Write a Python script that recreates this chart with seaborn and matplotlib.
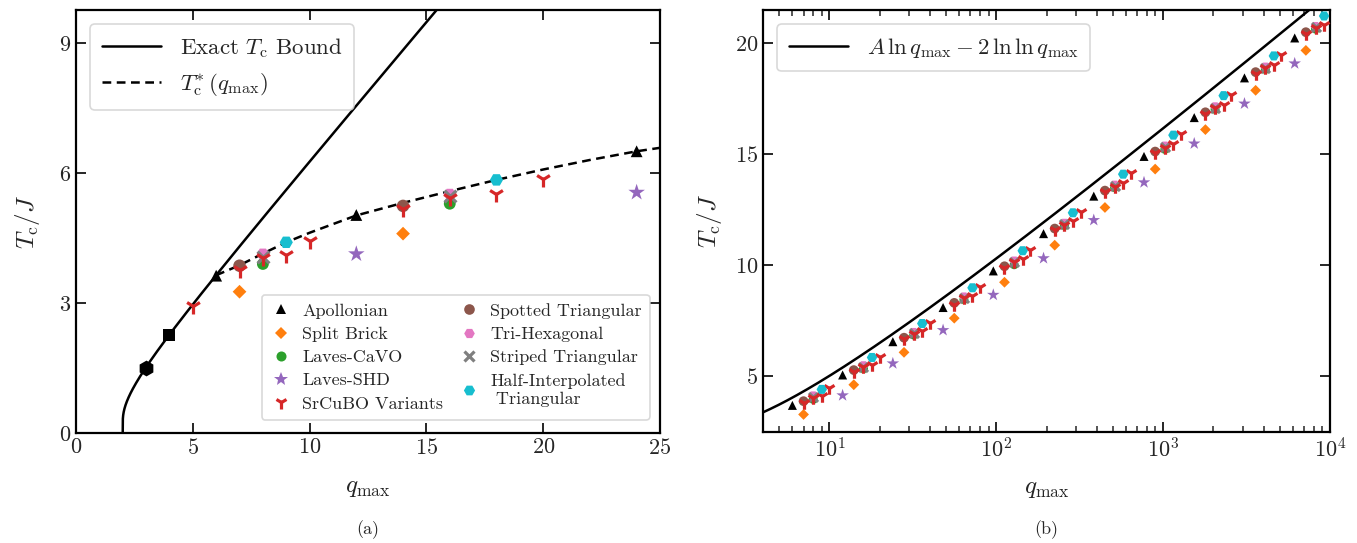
import numpy as np
import pandas as pd
import matplotlib
matplotlib.use("Agg")
import matplotlib.pyplot as plt
import seaborn as sns
from matplotlib.lines import Line2D
from matplotlib.ticker import LogLocator, NullFormatter, FixedLocator

sns.set_theme(style="ticks")
plt.rcParams.update({
    "font.family": "serif",
    "font.serif": ["cmr10"],
    "mathtext.fontset": "cm",
    "axes.formatter.use_mathtext": True,
    "axes.unicode_minus": False,
    "axes.linewidth": 1.6,
    "xtick.direction": "in",
    "ytick.direction": "in",
    "xtick.top": True,
    "ytick.right": True,
    "xtick.major.size": 7,
    "ytick.major.size": 7,
    "xtick.minor.size": 4,
    "xtick.major.width": 1.4,
    "ytick.major.width": 1.4,
    "xtick.minor.width": 1.1,
    "xtick.labelsize": 16,
    "ytick.labelsize": 16,
    "axes.edgecolor": "black",
})

# ---------------- data: panel (a) ----------------
regular_q = [3, 4]
regular_T = [1.51, 2.26]

apol_q_a = [6, 12, 24]
apol_T_a = [3.63, 5.03, 6.50]
split_q_a = [7, 14]
split_T_a = [3.26, 4.60]
cavo_q_a = [8, 16]
cavo_T_a = [3.90, 5.29]
shd_q_a = [12, 24]
shd_T_a = [4.13, 5.55]
srcubo_q_a = [5, 7, 8, 9, 10, 14, 16, 18, 20]
srcubo_T_a = [2.92, 3.76, 4.03, 4.11, 4.42, 5.17, 5.42, 5.52, 5.86]
spotted_q_a = [7, 14]
spotted_T_a = [3.86, 5.24]
trihex_q_a = [8, 16]
trihex_T_a = [4.13, 5.51]
striped_q_a = [8, 16]
striped_T_a = [4.07, 5.46]
half_q_a = [9, 18]
half_T_a = [4.40, 5.84]

# T_c^*(q_max) dashed curve
tstar_q = [6, 7, 8, 9, 10, 12, 14, 16, 18, 20, 22, 24, 25]
tstar_T = [3.64, 3.87, 4.14, 4.40, 4.62, 5.02, 5.31, 5.58, 5.84, 6.08, 6.30, 6.50, 6.58]

# ---------------- data: panel (b) ----------------
apol_q_b = [6, 12, 24, 48, 96, 192, 384, 768, 1536, 3072, 6144]
apol_T_b = [3.68, 5.05, 6.55, 8.09, 9.74, 11.42, 13.11, 14.90, 16.65, 18.44, 20.24]
split_q_b = [7, 14, 28, 56, 112, 224, 448, 896, 1792, 3584, 7168]
split_T_b = [3.27, 4.61, 6.07, 7.61, 9.23, 10.90, 12.60, 14.33, 16.11, 17.88, 19.68]
cavo_q_b = [8, 16, 32, 64, 128, 256, 512, 1024, 2048, 4096, 8192]
cavo_T_b = [3.95, 5.33, 6.85, 8.45, 10.02, 11.78, 13.50, 15.22, 17.02, 18.82, 20.64]
shd_q_b = [12, 24, 48, 96, 192, 384, 768, 1536, 3072, 6144]
shd_T_b = [4.13, 5.57, 7.07, 8.66, 10.31, 12.03, 13.73, 15.48, 17.28, 19.09]
spotted_q_b = [7, 14, 28, 56, 112, 224, 448, 896, 1792, 3584, 7168]
spotted_T_b = [3.87, 5.27, 6.73, 8.30, 9.95, 11.65, 13.36, 15.12, 16.89, 18.70, 20.50]
trihex_q_b = [8, 16, 32, 64, 128, 256, 512, 1024, 2048, 4096, 8192]
trihex_T_b = [4.12, 5.48, 6.98, 8.58, 10.20, 11.90, 13.62, 15.38, 17.15, 18.94, 20.77]
striped_q_b = [8, 16, 32, 64, 128, 256, 512, 1024, 2048, 4096, 8192]
striped_T_b = [4.07, 5.42, 6.92, 8.54, 10.15, 11.86, 13.57, 15.33, 17.10, 18.90, 20.73]
half_q_b = [9, 18, 36, 72, 144, 288, 576, 1152, 2304, 4608, 9216]
half_T_b = [4.40, 5.84, 7.37, 8.98, 10.65, 12.36, 14.10, 15.86, 17.64, 19.43, 21.23]
srcubo_q_b = [7, 14, 28, 56, 112, 224, 448, 896, 1792, 3584, 7168,
              8, 16, 32, 64, 128, 256, 512, 1024, 2048, 4096, 8192,
              9, 18, 36, 72, 144, 288, 576, 1152, 2304, 4608, 9216,
              10, 20, 40, 80, 160, 320, 640, 1280, 2560, 5120]
srcubo_T_b = [3.77, 5.18, 6.65, 8.22, 9.88, 11.58, 13.29, 15.05, 16.82, 18.62, 20.43,
              4.03, 5.40, 6.90, 8.50, 10.12, 11.83, 13.54, 15.30, 17.07, 18.87, 20.70,
              4.10, 5.52, 7.02, 8.60, 10.27, 11.97, 13.71, 15.48, 17.23, 19.04, 20.83,
              4.45, 5.87, 7.40, 9.00, 10.68, 12.38, 14.14, 15.89, 17.66, 19.46]

A_const = 2.9

labels = ["Apollonian", "Split Brick", "Laves-CaVO", "Laves-SHD", "SrCuBO Variants",
          "Spotted Triangular", "Tri-Hexagonal", "Striped Triangular",
          "Half-Interpolated\n Triangular"]
colors = ["black", "#ff7f0e", "#2ca02c", "#9467bd", "#d62728",
          "#8c564b", "#e377c2", "#7f7f7f", "#17becf"]
markers = ["^", "D", "o", "*", "1", "o", "H", "x", "H"]
msizes_a = [8.5, 7, 8.5, 12.5, 11.5, 9, 9, 8.5, 9.5]
msizes_b = [6.5, 5.5, 6.5, 9.5, 9, 7, 7, 6.5, 7.5]

series_a = [(apol_q_a, apol_T_a), (split_q_a, split_T_a), (cavo_q_a, cavo_T_a),
            (shd_q_a, shd_T_a), (srcubo_q_a, srcubo_T_a), (spotted_q_a, spotted_T_a),
            (trihex_q_a, trihex_T_a), (striped_q_a, striped_T_a), (half_q_a, half_T_a)]
series_b = [(apol_q_b, apol_T_b), (split_q_b, split_T_b), (cavo_q_b, cavo_T_b),
            (shd_q_b, shd_T_b), (srcubo_q_b, srcubo_T_b), (spotted_q_b, spotted_T_b),
            (trihex_q_b, trihex_T_b), (striped_q_b, striped_T_b), (half_q_b, half_T_b)]
# drawing order (SrCuBO drawn on top of the circles)
draw_order = [0, 1, 2, 3, 5, 6, 7, 4, 8]

W, H = 1357, 543
fig = plt.figure(figsize=(W / 100, H / 100), dpi=100)
axa = fig.add_axes([76 / W, (H - 433) / H, 584 / W, 423 / H])
axb = fig.add_axes([763 / W, (H - 432) / H, 567 / W, 422 / H])


def scatter(ax, q, T, i, ms, zo):
    m = markers[i]
    filled = m not in ("1", "x")
    sns.scatterplot(x=q, y=T, ax=ax, marker=m, s=ms ** 2, color=colors[i],
                    edgecolor=colors[i] if not filled else "none",
                    linewidth=2.3 if not filled else 0, zorder=zo, legend=False)


# ---------------- panel (a) ----------------
q_exact = np.concatenate([np.linspace(2.0, 2.3, 200), np.linspace(2.3, 16, 400)])
T_exact = 1.0 / np.arctanh(np.tan(np.pi / (2 * q_exact[1:])))
T_exact = np.concatenate([[0.0], T_exact])
sns.lineplot(x=q_exact, y=T_exact, ax=axa, color="black", lw=1.8, sort=False,
             estimator=None, zorder=2)
sns.lineplot(x=tstar_q, y=tstar_T, ax=axa, color="black", lw=1.8, estimator=None,
             zorder=2, linestyle=(0, (3.5, 2.2)))
sns.scatterplot(x=regular_q[:1], y=regular_T[:1], ax=axa, marker="h", s=130,
                color="black", linewidth=0, zorder=4, legend=False)
sns.scatterplot(x=regular_q[1:], y=regular_T[1:], ax=axa, marker="s", s=85,
                color="black", linewidth=0, zorder=4, legend=False)
for k, i in enumerate(draw_order):
    q, T = series_a[i]
    scatter(axa, q, T, i, msizes_a[i], 3 + 0.01 * k)

axa.set_xlim(0, 25)
axa.set_ylim(0, 9.76)
axa.set_xticks([0, 5, 10, 15, 20, 25])
axa.set_yticks([0, 3, 6, 9])
axa.set_xlabel(r"$q_{\mathrm{max}}$", fontsize=18, labelpad=14)
axa.set_ylabel(r"$T_{\mathrm{c}}/J$", fontsize=18, labelpad=12)

line_handles = [Line2D([], [], color="black", lw=1.8),
                Line2D([], [], color="black", lw=1.8, linestyle=(0, (3.5, 2.2)))]
leg1 = axa.legend(line_handles, [r"Exact $T_{\mathrm{c}}$ Bound",
                                 r"$T_{\mathrm{c}}^{*}\,(q_{\mathrm{max}})$"],
                  loc="upper left", fontsize=16.5, frameon=True, fancybox=True,
                  handlelength=2.6, borderpad=0.5, labelspacing=0.5,
                  bbox_to_anchor=(0.005, 0.993))
leg1.get_frame().set_edgecolor("#d0d0d0")
leg1.get_frame().set_linewidth(1.2)
axa.add_artist(leg1)

mk_handles = []
for i in range(9):
    m = markers[i]
    filled = m not in ("1", "x")
    mk_handles.append(Line2D([], [], linestyle="none", marker=m, color=colors[i],
                             markersize=msizes_a[i] * 0.85,
                             markeredgewidth=2.3 if not filled else 0))
leg2 = axa.legend(mk_handles, labels, loc="lower right", ncol=2, fontsize=13,
                  frameon=True, fancybox=True, handlelength=1.2,
                  columnspacing=0.8, labelspacing=0.42, handletextpad=0.6,
                  borderpad=0.45, bbox_to_anchor=(0.9985, 0.01))
leg2.get_frame().set_edgecolor("#d0d0d0")
leg2.get_frame().set_linewidth(1.2)

# ---------------- panel (b) ----------------
q_line = np.logspace(np.log10(4), 4, 400)
T_line = A_const * np.log(q_line) - 2 * np.log(np.log(q_line))
sns.lineplot(x=q_line, y=T_line, ax=axb, color="black", lw=1.8, estimator=None,
             zorder=2)
for k, i in enumerate(draw_order):
    q, T = series_b[i]
    scatter(axb, q, T, i, msizes_b[i], 3 + 0.01 * k)

axb.set_xscale("log")
axb.set_xlim(4, 1e4)
axb.set_ylim(2.48, 21.5)
axb.set_yticks([5, 10, 15, 20])
axb.xaxis.set_major_locator(FixedLocator([10, 100, 1000, 10000]))
axb.xaxis.set_minor_locator(LogLocator(base=10, subs=np.arange(2, 10), numticks=20))
axb.xaxis.set_minor_formatter(NullFormatter())
axb.set_xlabel(r"$q_{\mathrm{max}}$", fontsize=18, labelpad=12)
axb.set_ylabel(r"$T_{\mathrm{c}}/J$", fontsize=18, labelpad=8)
leg3 = axb.legend([Line2D([], [], color="black", lw=1.8)],
                  [r"$A\,\ln q_{\mathrm{max}} - 2\,\ln\ln q_{\mathrm{max}}$"],
                  loc="upper left", fontsize=16.5, frameon=True, fancybox=True,
                  handlelength=2.6, borderpad=0.5, bbox_to_anchor=(0.005, 0.993))
leg3.get_frame().set_edgecolor("#d0d0d0")
leg3.get_frame().set_linewidth(1.2)

for ax in (axa, axb):
    for sp in ax.spines.values():
        sp.set_linewidth(1.6)
        sp.set_color("black")
    ax.tick_params(which="both", top=True, right=True, direction="in")

fig.text((76 + 660) / 2 / W, 1 - 530 / H, "(a)", ha="center", va="center", fontsize=13)
fig.text((763 + 1330) / 2 / W, 1 - 530 / H, "(b)", ha="center", va="center", fontsize=13)

fig.savefig("out.png", dpi=100)
